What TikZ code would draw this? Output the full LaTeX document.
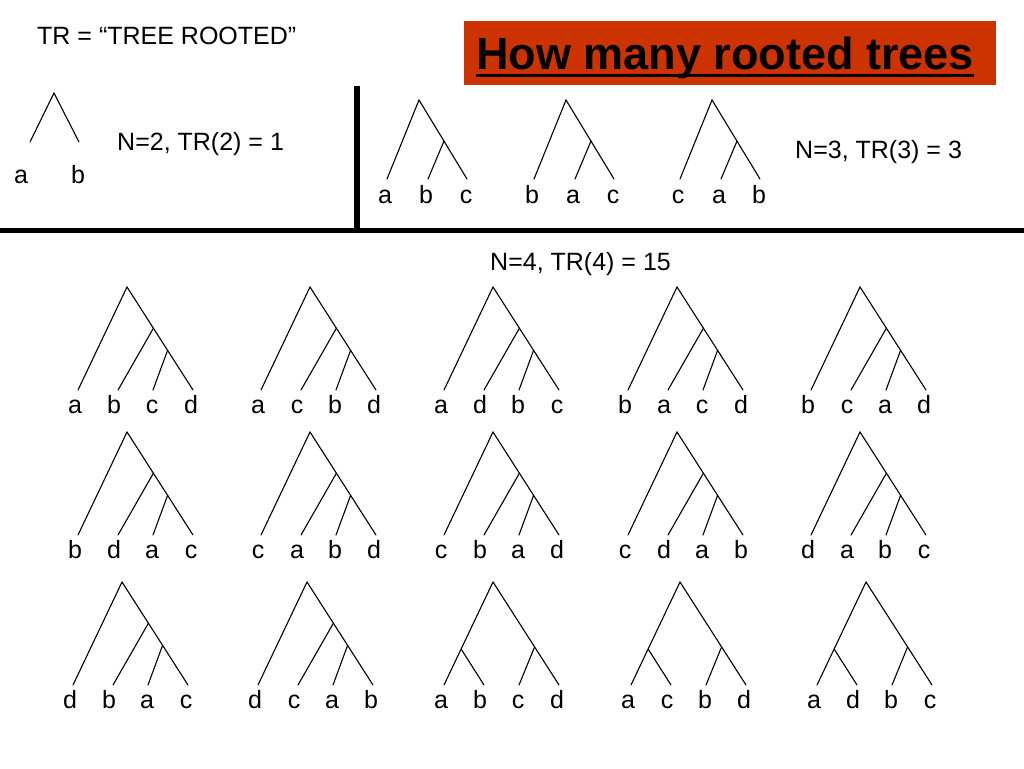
\documentclass[tikz,border=0pt]{standalone}
\usepackage{fontspec}
\setmainfont{Liberation Sans}
\usetikzlibrary{calc}
\definecolor{titlered}{RGB}{204,51,0}
\tikzset{
  br/.style={line width=1.1pt, line cap=round},
  lab/.style={anchor=base, inner sep=0pt, font=\fontsize{25}{30}\selectfont},
  txt/.style={anchor=base west, inner sep=0pt, font=\fontsize{25}{30}\selectfont},
  sepline/.style={line width=5.5pt},
}
\newcommand{\cattree}[7]{%
\begin{scope}[shift={(#2,#3)}]
\coordinate (#1r) at (0,0);
\coordinate (#1i) at (26.4,41.2);
\coordinate (#1j) at (40.6,63.3);
\coordinate (#1p) at (-49,103);
\coordinate (#1q) at (-9,103);
\coordinate (#1s) at (26,103);
\coordinate (#1t) at (66,103);
\draw[br] (#1p) -- (#1r) -- (#1t);
\draw[br] (#1i) -- (#1q);
\draw[br] (#1j) -- (#1s);
\node[lab] (#1A) at (-52,126) {#4};
\node[lab] (#1B) at (-13,126) {#5};
\node[lab] (#1C) at (25,126) {#6};
\node[lab] (#1D) at (64,126) {#7};
\end{scope}}
\newcommand{\baltree}[7]{%
\begin{scope}[shift={(#2,#3)}]
\coordinate (#1r) at (0,0);
\coordinate (#1i) at (-31.9,67);
\coordinate (#1j) at (41.6,64.9);
\coordinate (#1p) at (-49,103);
\coordinate (#1q) at (-9,103);
\coordinate (#1s) at (26,103);
\coordinate (#1t) at (66,103);
\draw[br] (#1p) -- (#1r) -- (#1t);
\draw[br] (#1i) -- (#1q);
\draw[br] (#1j) -- (#1s);
\node[lab] (#1A) at (-52,126) {#4};
\node[lab] (#1B) at (-13,126) {#5};
\node[lab] (#1C) at (25,126) {#6};
\node[lab] (#1D) at (64,126) {#7};
\end{scope}}
\newcommand{\threetree}[6]{%
\begin{scope}[shift={(#2,#3)}]
\coordinate (#1r) at (0,0);
\coordinate (#1i) at (25,41);
\coordinate (#1p) at (-32,79);
\coordinate (#1q) at (9,79);
\coordinate (#1t) at (48,79);
\draw[br] (#1p) -- (#1r) -- (#1t);
\draw[br] (#1i) -- (#1q);
\node[lab] (#1A) at (-34,103) {#4};
\node[lab] (#1B) at (7,103) {#5};
\node[lab] (#1C) at (47,103) {#6};
\end{scope}}
\begin{document}
\begin{tikzpicture}[x=1pt,y=-1pt]
\useasboundingbox (0,0) rectangle (1024,768);
\fill[white] (0,0) rectangle (1024,768);
% title
\node[fill=titlered, minimum width=532pt, minimum height=64pt, inner sep=0pt, anchor=north west] (tbox) at (464,21) {};
\node[anchor=base, inner sep=0pt, font=\fontsize{45}{54}\selectfont\bfseries] (title) at (725,70) {How many rooted trees};
\draw[line width=3.2pt] ($(title.base west)+(0,5.5)$) -- ($(title.base east)+(0,5.5)$);
% separators
\coordinate (vtop) at (357,86);
\coordinate (vbot) at (357,230);
\coordinate (hl) at (0,230.5);
\coordinate (hr) at (1024,230.5);
\draw[sepline] (vtop) -- (vbot);
\draw[sepline] (hl) -- (hr);
% texts
\node[txt] (trdef) at (37,45) {TR = “TREE ROOTED”};
\node[txt] (n2) at (117,150) {N=2, TR(2) = 1};
\node[txt] (n3) at (795,158) {N=3, TR(3) = 3};
\node[txt] (n4) at (490,270) {N=4, TR(4) = 15};
% N=2
\coordinate (t2r) at (54,93);
\coordinate (t2a) at (30,142);
\coordinate (t2b) at (79,142);
\draw[br] (t2a) -- (t2r) -- (t2b);
\node[lab] (t2la) at (21,183) {a};
\node[lab] (t2lb) at (78,183) {b};
% N=3
\threetree{ta}{419}{100}{a}{b}{c}
\threetree{tb}{566}{100}{b}{a}{c}
\threetree{tc}{712}{100}{c}{a}{b}
% N=4 row 1
\cattree{qa}{127}{287}{a}{b}{c}{d}
\cattree{qb}{310}{287}{a}{c}{b}{d}
\cattree{qc}{493}{287}{a}{d}{b}{c}
\cattree{qd}{677}{287}{b}{a}{c}{d}
\cattree{qe}{860}{287}{b}{c}{a}{d}
% row 2
\cattree{qf}{127}{432}{b}{d}{a}{c}
\cattree{qg}{310}{432}{c}{a}{b}{d}
\cattree{qh}{493}{432}{c}{b}{a}{d}
\cattree{qi}{677}{432}{c}{d}{a}{b}
\cattree{qj}{860}{432}{d}{a}{b}{c}
% row 3
\cattree{qk}{122}{582}{d}{b}{a}{c}
\cattree{ql}{307}{582}{d}{c}{a}{b}
\baltree{qm}{493}{582}{a}{b}{c}{d}
\baltree{qn}{680}{582}{a}{c}{b}{d}
\baltree{qo}{866}{582}{a}{d}{b}{c}
\end{tikzpicture}
\end{document}
